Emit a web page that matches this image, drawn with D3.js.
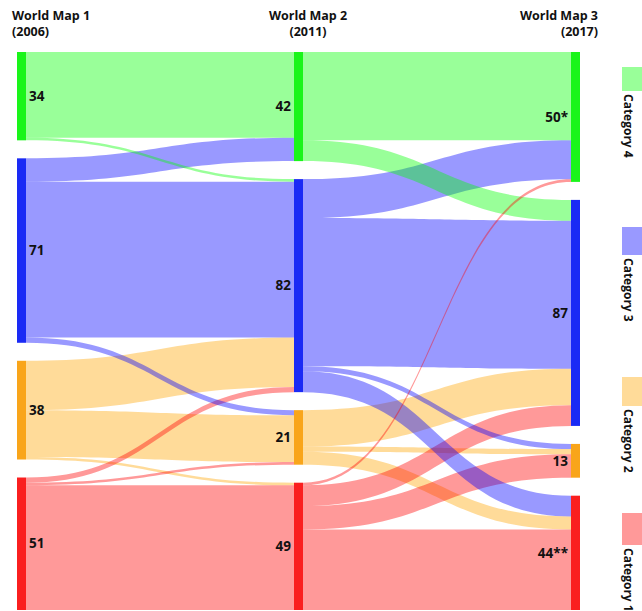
<!DOCTYPE html>
<html><head><meta charset="utf-8">
<script src="https://cdn.jsdelivr.net/npm/d3@7"></script>
<style>
body{margin:0;background:#fff;}
text{font-family:"Open Sans","Noto Sans",sans-serif;font-weight:bold;fill:#111;}
</style></head>
<body><svg id="c" width="642" height="611"></svg>
<script>
// ---- data ----
const mapTitles = ["World Map 1","World Map 2","World Map 3"];
const mapYears = ["(2006)","(2011)","(2017)"];
const categories = ["Category 4","Category 3","Category 2","Category 1"]; // top to bottom
const totals1 = [34,71,38,51];
const totals2 = [42,82,21,49];
const totals3 = [50,87,13,44];
const labels3 = ["50*","87","13","44**"];
// flows[from][to], categories in order 4,3,2,1
const flows12 = [
  [33, 1, 0, 0],
  [ 9,60, 2, 0],
  [ 0,19,18, 1],
  [ 0, 2, 1,48]
];
const flows23 = [
  [34, 8, 0, 0],
  [15,57, 2, 8],
  [ 0,14, 2, 5],
  [ 1, 8, 9,31]
];
const nodeColors = ["#1af51a","#1a2af5","#f9a51a","#fa1f1f"];
const linkColors = ["#00ff00","#0000ff","#ffa500","#ff0000"];

// ---- layout ----
const svg = d3.select("#c");
const yTop = 52, yBottom = 610, pad = 18, nodeW = 9;
const columns = [totals1, totals2, totals3];
const colLabels = [totals1.map(String), totals2.map(String), labels3];
const grand = d3.sum(totals1);
const ky = d3.scaleLinear().domain([0, grand]).range([0, yBottom - yTop - pad * (categories.length - 1)]);
const xCol = d3.scaleLinear().domain([0, 2]).range([17, 571]);

const nodes = columns.map((vals, c) => {
  let y = yTop;
  return vals.map((v, i) => {
    const n = {c, i, value: v, x0: xCol(c), x1: xCol(c) + nodeW, y0: y, y1: y + ky(v), label: colLabels[c][i]};
    y = n.y1 + pad;
    n.outY = n.y0; n.inY = n.y0;
    return n;
  });
});

const links = [];
[flows12, flows23].forEach((m, c) => {
  m.forEach((row, s) => row.forEach((v, t) => {
    if (v > 0) links.push({c, s, t, value: v, source: nodes[c][s], target: nodes[c + 1][t]});
  }));
});
links.forEach(l => { l.sy0 = l.source.outY; l.sy1 = l.sy0 + ky(l.value); l.source.outY = l.sy1; });
[0, 1].forEach(c => {
  nodes[c + 1].forEach((tn, t) => {
    links.filter(l => l.c === c && l.t === t).sort((a, b) => a.s - b.s).forEach(l => {
      l.ty0 = tn.inY; l.ty1 = l.ty0 + ky(l.value); tn.inY = l.ty1;
    });
  });
});

function bandPath(l) {
  const x0 = l.source.x1, x1 = l.target.x0, xm = (x0 + x1) / 2;
  const p = d3.path();
  p.moveTo(x0, l.sy0);
  p.bezierCurveTo(xm, l.sy0, xm, l.ty0, x1, l.ty0);
  p.lineTo(x1, l.ty1);
  p.bezierCurveTo(xm, l.ty1, xm, l.sy1, x0, l.sy1);
  p.closePath();
  return p.toString();
}

const drawOrder = [2, 3, 1, 0];
const ordered = links.slice().sort((a, b) => {
  const ka = (a.s === 3 && a.t === 0) ? 9 : drawOrder.indexOf(a.s);
  const kb = (b.s === 3 && b.t === 0) ? 9 : drawOrder.indexOf(b.s);
  return ka - kb;
});

svg.append("g").selectAll("path").data(ordered).join("path")
  .attr("d", bandPath)
  .attr("fill", d => linkColors[d.s])
  .attr("fill-opacity", 0.4);

const allNodes = nodes.flat();
svg.append("g").selectAll("rect").data(allNodes).join("rect")
  .attr("x", d => d.x0).attr("y", d => d.y0)
  .attr("width", nodeW).attr("height", d => d.y1 - d.y0)
  .attr("fill", d => nodeColors[d.i]);

svg.append("g").selectAll("text").data(allNodes).join("text")
  .attr("x", d => d.c === 0 ? d.x1 + 3 : d.x0 - 3)
  .attr("y", d => (d.y0 + d.y1) / 2)
  .attr("dy", "0.35em")
  .attr("text-anchor", d => d.c === 0 ? "start" : "end")
  .style("font-size", "13.5px")
  .text(d => d.label);

// titles
const titleX = [12, 308, 598];
const titleAnchor = ["start", "middle", "end"];
mapTitles.forEach((t, c) => {
  svg.append("text").attr("x", titleX[c]).attr("y", 20).attr("text-anchor", titleAnchor[c])
    .style("font-size", "12.5px").text(t);
  svg.append("text").attr("x", titleX[c]).attr("y", 36).attr("text-anchor", titleAnchor[c])
    .style("font-size", "12.5px").text(mapYears[c]);
});

// legend
const legendBoxY = [67, 227, 377, 513];
const legendBoxH = [24, 28, 29, 32];
const lg = svg.append("g");
categories.forEach((cat, i) => {
  lg.append("rect").attr("x", 622).attr("y", legendBoxY[i]).attr("width", 30).attr("height", legendBoxH[i])
    .attr("fill", linkColors[i]).attr("fill-opacity", 0.4);
  lg.append("text").attr("transform", `translate(624,${legendBoxY[i] + legendBoxH[i] + 3}) rotate(90)`)
    .attr("text-anchor", "start").style("font-size", "12px").text(cat);
});
</script></body></html>
